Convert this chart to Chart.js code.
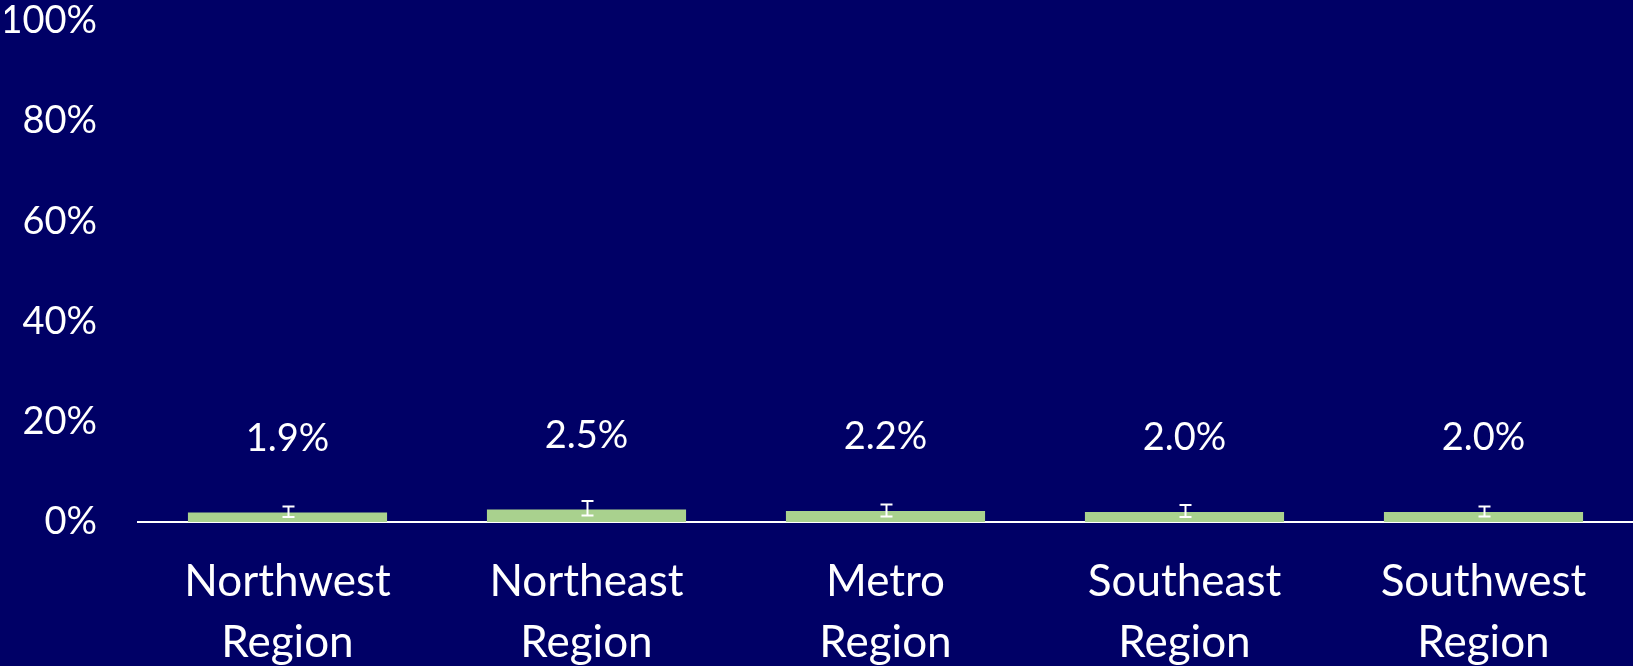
<!DOCTYPE html>
<html>
<head>
<meta charset="utf-8">
<script src="https://cdn.jsdelivr.net/npm/chart.js@4/dist/chart.umd.min.js"></script>
<style>
  html, body { margin: 0; padding: 0; background: #000066; }
  #wrap { width: 1633px; height: 666px; }
</style>
</head>
<body>
<div id="wrap"><canvas id="c" width="1633" height="666"></canvas></div>
<script>
const categories = [["Northwest", "Region"], ["Northeast", "Region"], ["Metro", "Region"], ["Southeast", "Region"], ["Southwest", "Region"]];
const values = [1.9, 2.5, 2.2, 2.0, 2.0];
const errLow = [1.0, 1.3, 1.1, 1.0, 1.1];
const errHigh = [3.1, 4.2, 3.5, 3.4, 3.1];
const yTicks = [0, 20, 40, 60, 80, 100];

const FONT = "Lato, 'Open Sans', sans-serif";

const extrasPlugin = {
  id: 'extras',
  afterDatasetsDraw(chart) {
    const ctx = chart.ctx;
    const y = chart.scales.y;
    const meta = chart.getDatasetMeta(0);
    ctx.save();
    ctx.strokeStyle = '#ffffff';
    ctx.lineWidth = 2;
    meta.data.forEach((bar, i) => {
      const x = Math.round(bar.x) + 0.5;
      const yl = y.getPixelForValue(errLow[i]);
      const yh = y.getPixelForValue(errHigh[i]);
      ctx.beginPath();
      ctx.moveTo(x, yl); ctx.lineTo(x, yh);
      ctx.moveTo(x - 6, yl); ctx.lineTo(x + 6, yl);
      ctx.moveTo(x - 6, yh); ctx.lineTo(x + 6, yh);
      ctx.stroke();
    });
    ctx.fillStyle = '#ffffff';
    ctx.font = '38px ' + FONT;
    ctx.textAlign = 'center';
    ctx.textBaseline = 'middle';
    meta.data.forEach((bar, i) => {
      ctx.fillText(values[i].toFixed(1) + '%', bar.x, bar.y - 74);
    });
    ctx.restore();
  }
};

new Chart(document.getElementById('c'), {
  type: 'bar',
  data: {
    labels: categories,
    datasets: [{
      data: values,
      backgroundColor: '#A9D18E',
      borderWidth: 0,
      categoryPercentage: 1.0,
      barPercentage: 0.666
    }]
  },
  options: {
    responsive: false,
    animation: false,
    events: [],
    layout: { padding: { left: 5, right: 0, top: 21, bottom: 0 } },
    plugins: { legend: { display: false }, tooltip: { enabled: false } },
    scales: {
      x: {
        grid: { display: false, drawTicks: false },
        border: { display: true, color: '#ffffff', width: 2 },
        ticks: {
          color: '#ffffff',
          font: { family: FONT, size: 44, lineHeight: 1.37 },
          padding: 30,
          maxRotation: 0,
          autoSkip: false
        },
        afterFit: (scale) => {
          scale.height = 144;
          scale.paddingTop = 0; scale.paddingBottom = 0;
          scale.paddingLeft = 0; scale.paddingRight = 0;
        }
      },
      y: {
        min: 0,
        max: 100,
        grid: { display: false, drawTicks: false },
        border: { display: false },
        afterBuildTicks: (scale) => { scale.ticks = yTicks.map(v => ({ value: v })); },
        afterFit: (scale) => {
          scale.width = 133;
          scale.paddingTop = 0; scale.paddingBottom = 0;
          scale.paddingLeft = 0; scale.paddingRight = 0;
        },
        ticks: {
          color: '#ffffff',
          font: { family: FONT, size: 38 },
          padding: 41,
          callback: (v) => v + '%'
        }
      }
    }
  },
  plugins: [extrasPlugin]
});
</script>
</body>
</html>
